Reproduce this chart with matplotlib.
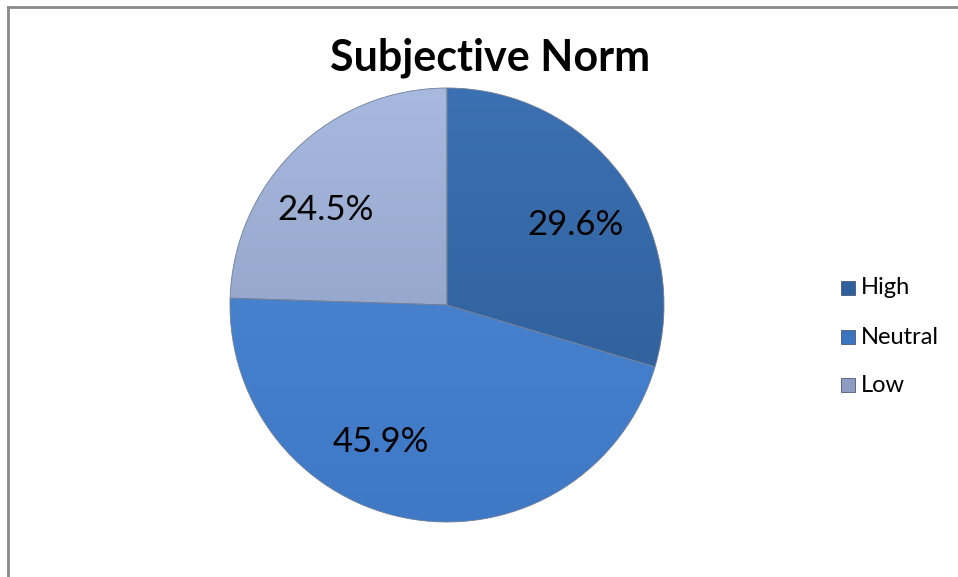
import matplotlib
matplotlib.use("Agg")
import matplotlib.pyplot as plt
import numpy as np
from matplotlib.colors import LinearSegmentedColormap
from matplotlib.patches import Rectangle
from matplotlib.lines import Line2D

categories = ["High", "Neutral", "Low"]
values = [29.6, 45.9, 24.5]
pct_labels = ["29.6%", "45.9%", "24.5%"]
title = "Subjective Norm"

# gradient colours (top, bottom) per slice
top_colors = ["#3b70b2", "#4f8ad6", "#a7b9de"]
bot_colors = ["#2c5b94", "#3f78c4", "#8797bd"]
legend_colors = ["#2f5f9c", "#3a74bf", "#8d9cc0"]

# label placement (polar, in units of radius / degrees) as Excel placed them
label_r = [0.70, 0.70, 0.71]
label_ang = [32.0, -116.0, 142.0]

plt.rcParams['font.family'] = ['Lato', 'DejaVu Sans']

W, H = 958, 577
fig = plt.figure(figsize=(W / 100, H / 100), dpi=100)

# outer chart border (only top and left visible in the crop)
fig.add_artist(Line2D([8 / W, 8 / W], [-0.1, 1 - 7 / H], transform=fig.transFigure,
                      color="#8a8a8a", linewidth=2))
fig.add_artist(Line2D([8 / W, 1.1], [1 - 7 / H, 1 - 7 / H], transform=fig.transFigure,
                      color="#8a8a8a", linewidth=2))

cx, cy, R = 447, 305, 217
ax = fig.add_axes([(cx - R) / W, (H - cy - R) / H, 2 * R / W, 2 * R / H])
wedges, _ = ax.pie(values, startangle=90, counterclock=False, radius=1,
                   colors=legend_colors,
                   wedgeprops=dict(edgecolor="#6f7f99", linewidth=0.6))
ax.set_aspect("equal")
ax.axis("off")

grad = np.linspace(1, 0, 256).reshape(-1, 1)
for w, tc, bc in zip(wedges, top_colors, bot_colors):
    cmap = LinearSegmentedColormap.from_list("g", [bc, tc])
    im = ax.imshow(grad, extent=[-1, 1, -1, 1], cmap=cmap, aspect="auto",
                   origin="upper", zorder=1.5, vmin=0, vmax=1)
    im.set_clip_path(w)
    w.set_facecolor("none")
    w.set_zorder(2)

for lab, r, a in zip(pct_labels, label_r, label_ang):
    t = np.deg2rad(a)
    ax.text(r * np.cos(t), r * np.sin(t), lab, ha="center", va="center",
            fontsize=25, color="#000000", zorder=5)

ax.set_xlim(-1, 1)
ax.set_ylim(-1, 1)

fig.text(490 / W, 1 - 58 / H, title, ha="center", va="center",
         fontsize=31, fontweight="bold", color="#000000")

# legend
ys = [288, 337, 385]
for cat, col, y in zip(categories, legend_colors, ys):
    fig.patches.append(Rectangle((841 / W, 1 - (y + 7) / H), 14 / W, 14 / H,
                                 transform=fig.transFigure, facecolor=col,
                                 edgecolor="#4a5a78", linewidth=0.6))
    fig.text(861 / W, 1 - y / H, cat, ha="left", va="center", fontsize=17,
             color="#000000")

fig.savefig("out.png", dpi=100)
